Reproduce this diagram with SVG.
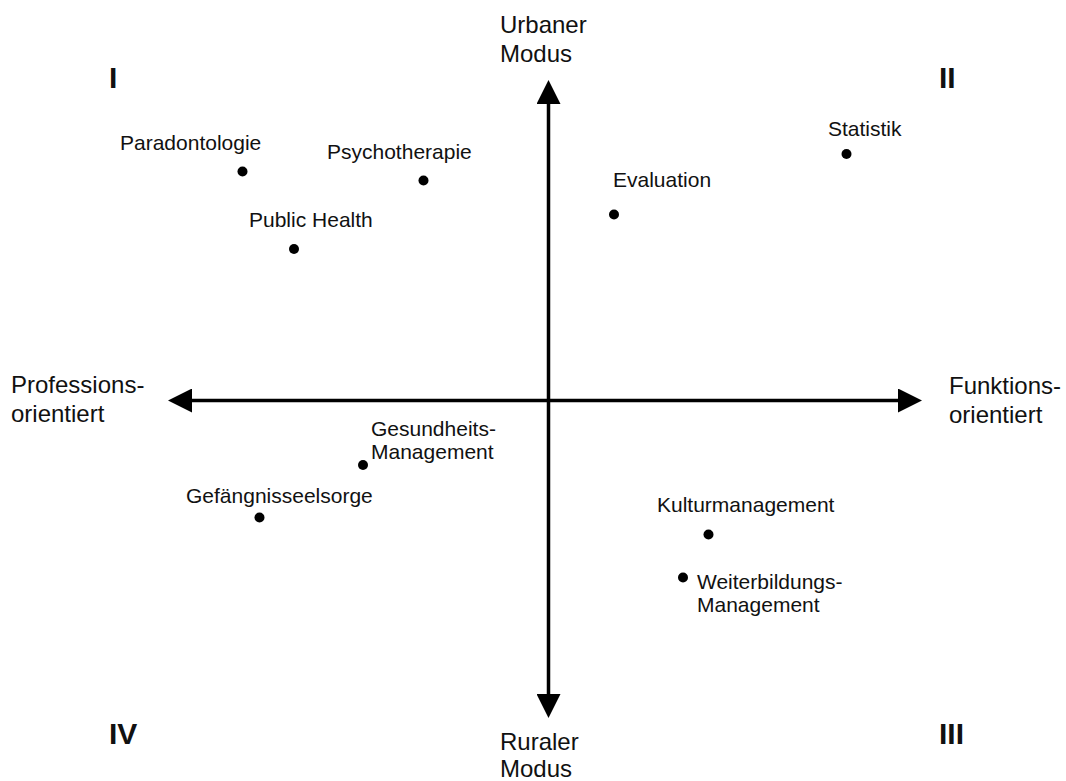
<svg xmlns="http://www.w3.org/2000/svg" width="1066" height="781" viewBox="0 0 1066 781">
<style>
  text { font-family: "Liberation Sans", Arial, sans-serif; fill: #111; }
  .lbl { font-size: 21px; }
  .axis { font-size: 24px; }
  .quad { font-size: 30px; font-weight: bold; }
  .dot { fill: #000; }
  .ax { stroke: #000; stroke-width: 3.5; fill: none; }
</style>
<defs>
  <marker id="head" viewBox="0 0 24 24" refX="0" refY="12" markerWidth="24" markerHeight="24" markerUnits="userSpaceOnUse" orient="auto-start-reverse">
    <path d="M0,0 L24,12 L0,24 Z" fill="#000"/>
  </marker>
</defs>
<rect width="1066" height="781" fill="#fff"/>

<g id="connectors">
  <line class="ax" x1="548.5" y1="104" x2="548.5" y2="694" marker-start="url(#head)" marker-end="url(#head)"/>
  <line class="ax" x1="192" y1="400.5" x2="898" y2="400.5" marker-start="url(#head)" marker-end="url(#head)"/>
</g>

<g id="axis-top"><text class="axis" x="500" y="33">Urbaner</text><text class="axis" x="500" y="61.5">Modus</text></g>
<g id="axis-bottom"><text class="axis" x="500" y="750">Ruraler</text><text class="axis" x="500" y="777">Modus</text></g>
<g id="axis-left"><text class="axis" x="11" y="393">Professions-</text><text class="axis" x="11" y="422">orientiert</text></g>
<g id="axis-right"><text class="axis" x="949" y="394">Funktions-</text><text class="axis" x="949" y="423">orientiert</text></g>

<g id="quad-I"><text class="quad" x="109" y="88">I</text></g>
<g id="quad-II"><text class="quad" x="939" y="88">II</text></g>
<g id="quad-III"><text class="quad" x="939" y="744">III</text></g>
<g id="quad-IV"><text class="quad" x="109" y="744">IV</text></g>

<g id="paradontologie"><text class="lbl" x="120" y="150">Paradontologie</text><circle class="dot" cx="242.5" cy="171.5" r="5"/></g>
<g id="psychotherapie"><text class="lbl" x="327" y="159">Psychotherapie</text><circle class="dot" cx="423.5" cy="180.5" r="5"/></g>
<g id="public-health"><text class="lbl" x="249" y="227">Public Health</text><circle class="dot" cx="294" cy="249" r="5"/></g>
<g id="evaluation"><text class="lbl" x="613" y="187">Evaluation</text><circle class="dot" cx="614" cy="214.5" r="5"/></g>
<g id="statistik"><text class="lbl" x="828" y="136">Statistik</text><circle class="dot" cx="846.5" cy="154" r="5"/></g>
<g id="gesundheits-management"><text class="lbl" x="371" y="436">Gesundheits-</text><text class="lbl" x="371" y="459">Management</text><circle class="dot" cx="363" cy="465" r="5"/></g>
<g id="gefaengnisseelsorge"><text class="lbl" x="186" y="503">Gefängnisseelsorge</text><circle class="dot" cx="259.5" cy="517.5" r="5"/></g>
<g id="kulturmanagement"><text class="lbl" x="657" y="512">Kulturmanagement</text><circle class="dot" cx="708.5" cy="534.5" r="5"/></g>
<g id="weiterbildungs-management"><text class="lbl" x="697" y="589">Weiterbildungs-</text><text class="lbl" x="697" y="612">Management</text><circle class="dot" cx="683" cy="577.5" r="5"/></g>
</svg>
